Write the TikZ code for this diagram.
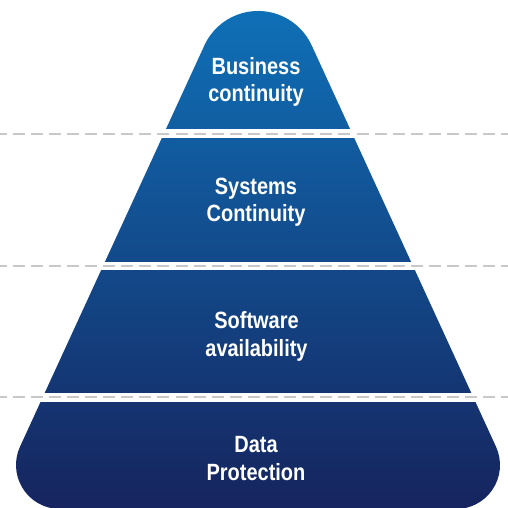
\documentclass[tikz,border=0pt]{standalone}
\usepackage{fontspec}
\setmainfont[FakeStretch=0.85]{Liberation Sans}
\definecolor{pyrtop}{RGB}{15,113,184}
\definecolor{pyrmid}{RGB}{28,76,140}
\definecolor{pyrbot}{RGB}{22,36,94}
\definecolor{sepgrey}{RGB}{200,200,200}
\tikzset{
  pyrfill/.style={top color=pyrtop, middle color=pyrmid, bottom color=pyrbot, draw=none},
  gapbar/.style={fill=white, draw=none},
  sepline/.style={draw=sepgrey, line width=2pt, dash pattern=on 12pt off 6.1pt, dash phase=5.5pt},
  label/.style={text=white, font=\bfseries\fontsize{23.5pt}{27.7pt}\selectfont, align=center, anchor=base, inner sep=0pt}
}
\begin{document}
\begin{tikzpicture}[x=1pt,y=1pt]
\useasboundingbox (0,0) rectangle (508,-508);
\begin{scope}
\clip (0,0) rectangle (508,-508);
% pyramid body
\path[pyrfill] (204.4,-45.4) arc[start angle=155.4, end angle=24.6, radius=59]
  -- (496,-446.7) arc[start angle=24.6, end angle=-90, radius=44]
  -- (60,-509) arc[start angle=-90, end angle=-204.6, radius=44] -- cycle;
% white gaps
\path[gapbar] (0,-129.2) rectangle (508,-138.3);
\path[gapbar] (0,-261.8) rectangle (508,-270.1);
\path[gapbar] (0,-393.3) rectangle (508,-401.6);
% dashed separators
\coordinate (s1a) at (0,-133.8); \coordinate (s1b) at (508,-133.8);
\coordinate (s2a) at (0,-265.9); \coordinate (s2b) at (508,-265.9);
\coordinate (s3a) at (0,-397.4); \coordinate (s3b) at (508,-397.4);
\draw[sepline] (s1a) -- (s1b);
\draw[sepline] (s2a) -- (s2b);
\draw[sepline] (s3a) -- (s3b);
\end{scope}
% labels (anchor base = baseline of the last line)
\node[label] (l1) at (256,-101.8) {Business\\continuity};
\node[label] (l2) at (256,-221.8) {Systems\\Continuity};
\node[label] (l3) at (256.5,-356) {Software\\availability};
\node[label] (l4) at (256,-480) {Data\\Protection};
\end{tikzpicture}
\end{document}
